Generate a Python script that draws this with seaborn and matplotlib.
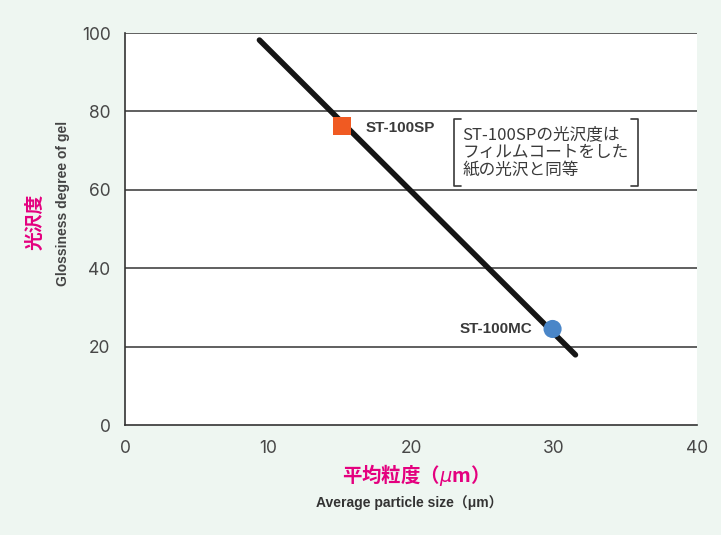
import matplotlib.pyplot as plt
import seaborn as sns
import pandas as pd

# trend line
trend_size = [9.4, 31.5]
trend_gloss = [98.2, 17.9]

# products
products = ['ST-100SP', 'ST-100MC']
product_size = [15.2, 29.9]
product_gloss = [76.3, 24.5]
product_colors = ['#f05a22', '#4a86c8']
product_markers = ['s', 'o']

x_ticks = [0, 10, 20, 30, 40]
y_ticks = [0, 20, 40, 60, 80, 100]

MAGENTA = '#e4007f'
GRAY = '#3a3a3a'
LATIN = ['Liberation Sans', 'Noto Sans CJK JP', 'DejaVu Sans']

sns.set_style('white')
plt.rcParams['font.family'] = ['Noto Sans CJK JP', 'DejaVu Sans']

fig = plt.figure(figsize=(7.21, 5.35), dpi=100, facecolor='#eef6f1')
ax = fig.add_axes([0.1734, 0.2056, 0.7933, 0.7327])
ax.set_facecolor('white')

# horizontal grid lines
for y in y_ticks[1:]:
    ax.axhline(y, color='#444444', lw=1.2, zorder=1)

trend = pd.DataFrame({'size': trend_size, 'gloss': trend_gloss})
sns.lineplot(data=trend, x='size', y='gloss', ax=ax, color='#151515', lw=4, zorder=3)

pts = pd.DataFrame({'name': products, 'size': product_size, 'gloss': product_gloss})
sns.scatterplot(data=pts, x='size', y='gloss', hue='name', style='name',
                palette=dict(zip(products, product_colors)),
                markers=dict(zip(products, product_markers)),
                s=170, edgecolor='none', legend=False, ax=ax, zorder=4)

ax.set_xlim(0, 40)
ax.set_ylim(0, 100)
ax.set_xticks(x_ticks)
ax.set_yticks(y_ticks)
ax.tick_params(axis='both', direction='out', length=7, width=1, colors='#333333',
               labelsize=12.5, labelcolor='#474747')
ax.tick_params(axis='x', pad=4)
for lab in ax.get_xticklabels() + ax.get_yticklabels():
    lab.set_family(['Inter', 'DejaVu Sans'])

for side in ['top', 'right']:
    ax.spines[side].set_visible(False)
for side in ['left', 'bottom']:
    ax.spines[side].set_color('#333333')
    ax.spines[side].set_linewidth(1.2)

ax.set_xlabel('')
ax.set_ylabel('')

# axis titles
fig.text(0.049, 0.585, '光沢度', color=MAGENTA, fontsize=13.5, fontweight='bold',
         rotation=90, ha='center', va='center')
fig.text(0.087, 0.62, 'Glossiness degree of gel', color='#444444', fontsize=10,
         fontweight='bold', rotation=90, ha='center', va='center', family=LATIN)
fig.text(0.57, 0.112, '平均粒度（$\\mu$m）', color=MAGENTA, fontsize=14,
         fontweight='bold', ha='center', va='center')
fig.text(0.568, 0.06, 'Average particle size（μm）', color='#333333', fontsize=10,
         fontweight='bold', ha='center', va='center', family=LATIN)

# point labels
ax.text(product_size[0] + 1.6, product_gloss[0] - 0.5, products[0], fontsize=11,
        fontweight='bold', color=GRAY, va='center', ha='left', family=LATIN)
ax.text(product_size[1] - 1.4, product_gloss[1], products[1], fontsize=11,
        fontweight='bold', color=GRAY, va='center', ha='right', family=LATIN)

# bracketed note
ax.text(23.6, 69.6, 'ST-100SPの光沢度は\nフィルムコートをした\n紙の光沢と同等', fontsize=12,
        color=GRAY, va='center', ha='left', linespacing=1.05)
bx0, bx1, by0, by1, serif = 23.0, 35.9, 61.0, 78.0, 0.5
ax.plot([bx0 + serif, bx0, bx0, bx0 + serif], [by1, by1, by0, by0], color=GRAY, lw=1.2, zorder=5)
ax.plot([bx1 - serif, bx1, bx1, bx1 - serif], [by1, by1, by0, by0], color=GRAY, lw=1.2, zorder=5)

fig.savefig('out.png', dpi=100, facecolor=fig.get_facecolor())
